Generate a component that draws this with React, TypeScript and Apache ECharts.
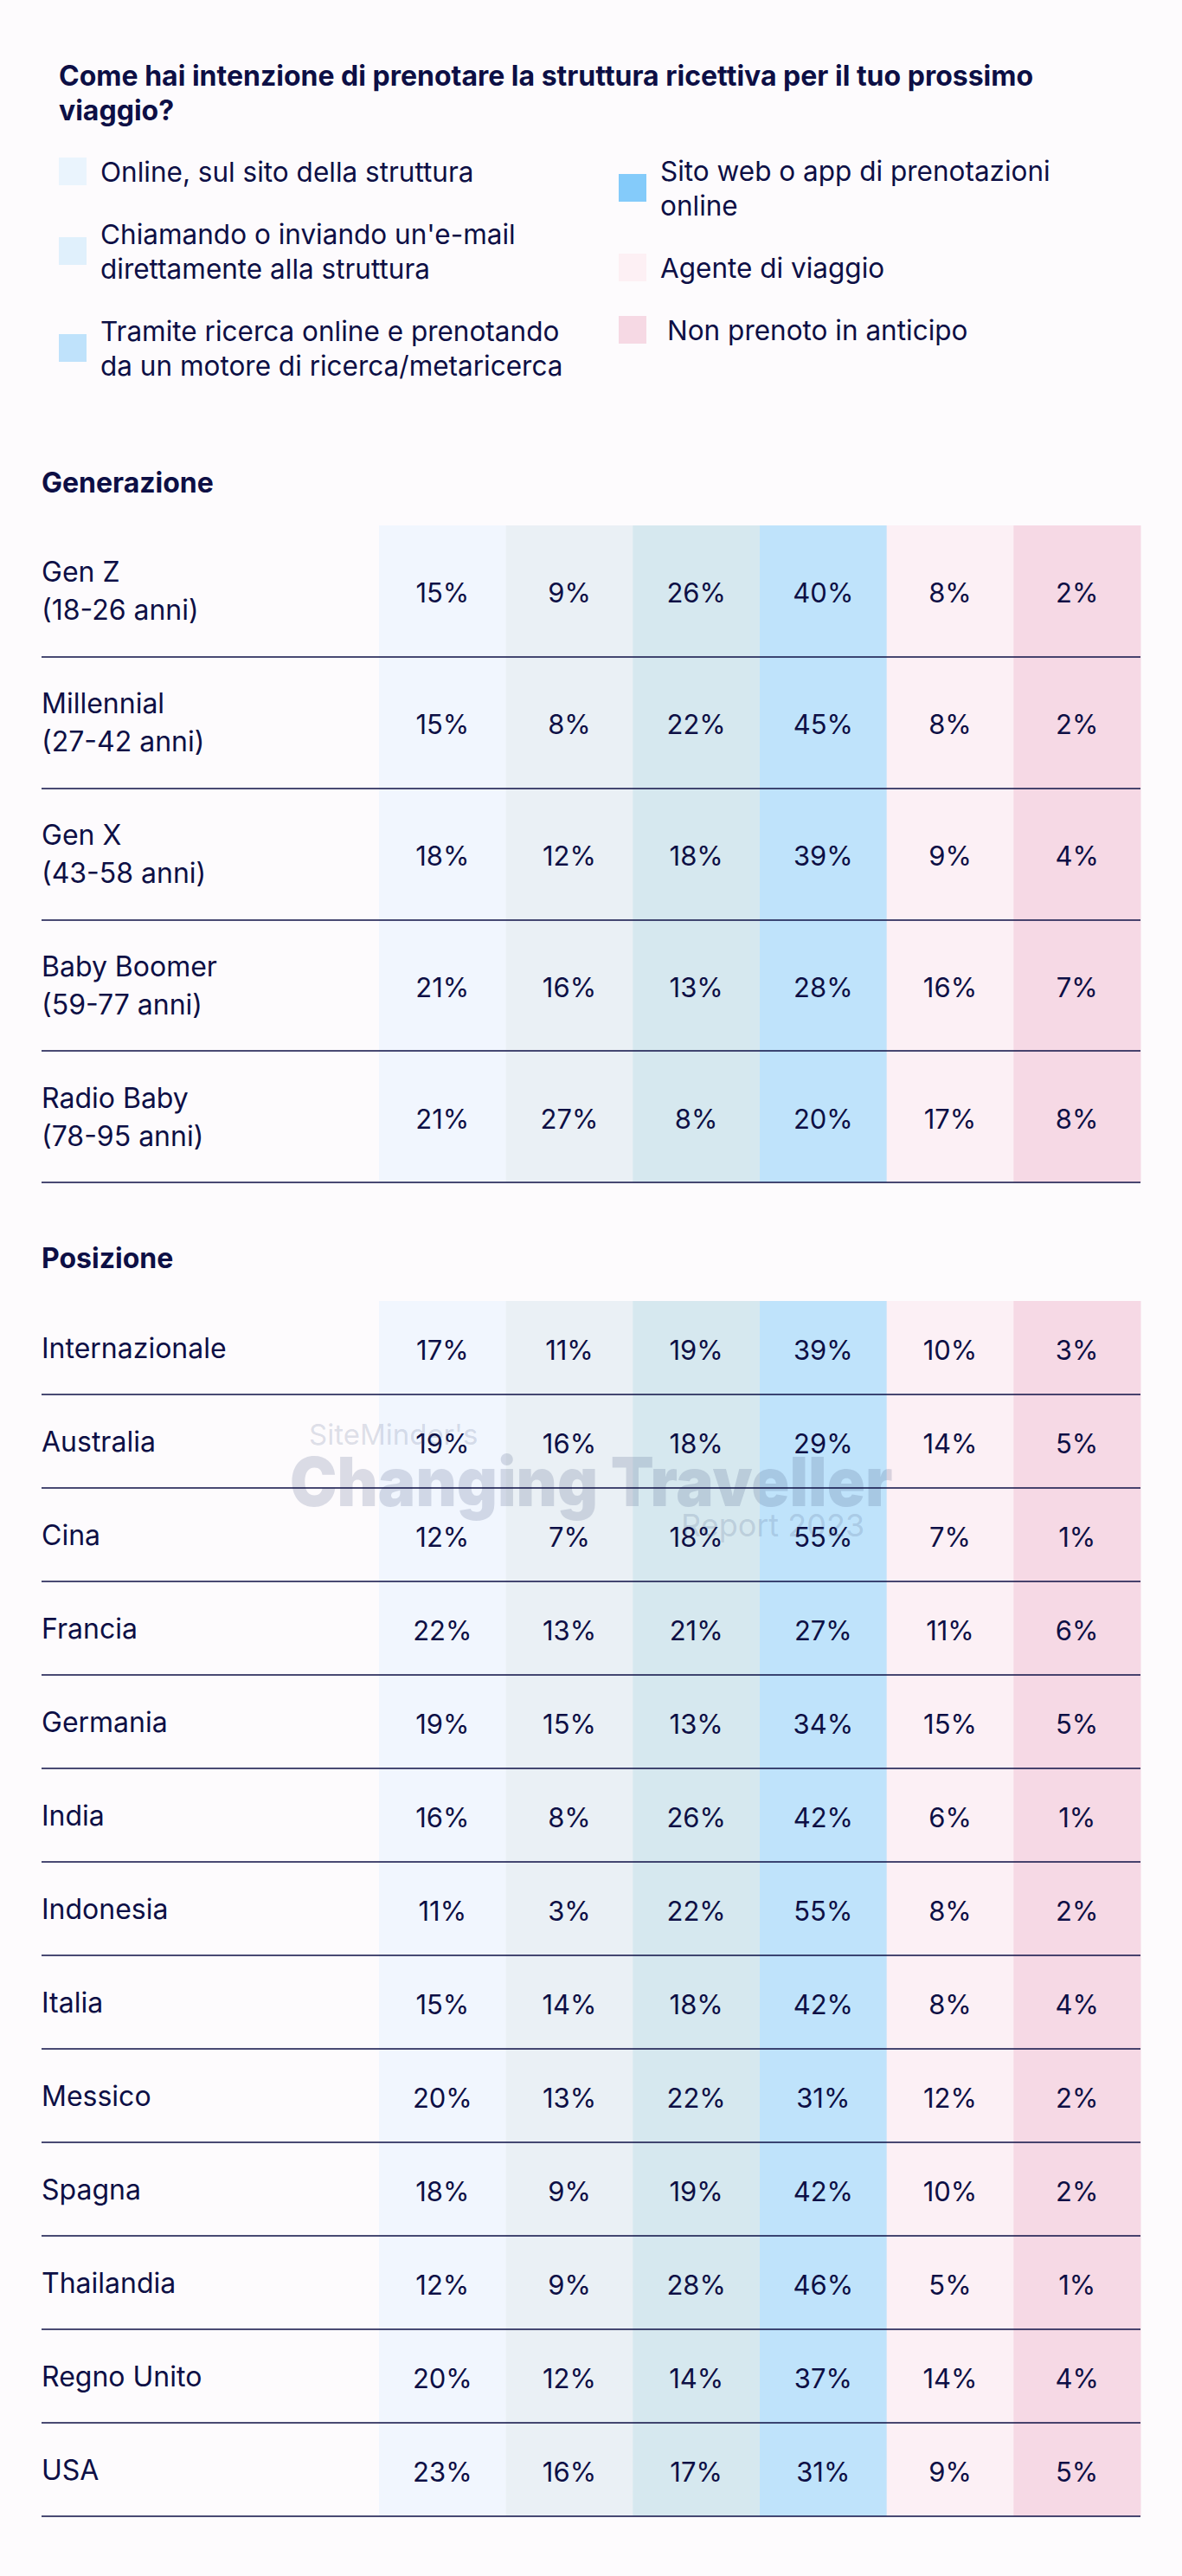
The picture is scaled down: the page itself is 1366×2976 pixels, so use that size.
import React, { useEffect, useRef } from "react";
import * as echarts from "echarts";

// ---------- data ----------
const optionNames = [
  "Online, sul sito della struttura",
  "Chiamando o inviando un'e-mail direttamente alla struttura",
  "Tramite ricerca online e prenotando da un motore di ricerca/metaricerca",
  "Sito web o app di prenotazioni online",
  "Agente di viaggio",
  "Non prenoto in anticipo",
];
const legendLabels = [
  "Online, sul sito della struttura",
  "Chiamando o inviando un'e-mail\ndirettamente alla struttura",
  "Tramite ricerca online e prenotando\nda un motore di ricerca/metaricerca",
  "Sito web o app di prenotazioni\nonline",
  "Agente di viaggio",
  "Non prenoto in anticipo",
];

const genCategories = [
  "Gen Z\n(18-26 anni)",
  "Millennial\n(27-42 anni)",
  "Gen X\n(43-58 anni)",
  "Baby Boomer\n(59-77 anni)",
  "Radio Baby\n(78-95 anni)",
];
const genOnline = [15, 15, 18, 21, 21];
const genCalling = [9, 8, 12, 16, 27];
const genSearch = [26, 22, 18, 13, 8];
const genOta = [40, 45, 39, 28, 20];
const genAgent = [8, 8, 9, 16, 17];
const genNoBooking = [2, 2, 4, 7, 8];

const posCategories = [
  "Internazionale",
  "Australia",
  "Cina",
  "Francia",
  "Germania",
  "India",
  "Indonesia",
  "Italia",
  "Messico",
  "Spagna",
  "Thailandia",
  "Regno Unito",
  "USA",
];
const posOnline = [17, 19, 12, 22, 19, 16, 11, 15, 20, 18, 12, 20, 23];
const posCalling = [11, 16, 7, 13, 15, 8, 3, 14, 13, 9, 9, 12, 16];
const posSearch = [19, 18, 18, 21, 13, 26, 22, 18, 22, 19, 28, 14, 17];
const posOta = [39, 29, 55, 27, 34, 42, 55, 42, 31, 42, 46, 37, 31];
const posAgent = [10, 14, 7, 11, 15, 6, 8, 8, 12, 10, 5, 14, 9];
const posNoBooking = [3, 5, 1, 6, 5, 1, 2, 4, 2, 2, 1, 4, 5];

const mainTitle =
  "Come hai intenzione di prenotare la struttura ricettiva per il tuo prossimo\nviaggio?";
const genHeading = "Generazione";
const posHeading = "Posizione";

// ---------- styles ----------
const NAVY = "#0d0f45";
const BG = "#fdfbfd";
const FONT = "Inter";
const WM = "rgba(60,75,120,0.18)";
const legendColors = ["#eaf4fd", "#e0f0fc", "#bfe2fb", "#84cbfa", "#fdf0f4", "#f6d9e4"];
const bandColors = ["#f1f6fe", "#eaf0f5", "#d6e8ef", "#bfe3fb", "#fcf0f5", "#f6d9e5"];
const LABEL_SPAN = 390 / (880 / 6); // label column width in column units

function makeSeries(gridIdx: number, columns: number[][]) {
  return columns.map((arr, j) => ({
    type: "custom",
    name: optionNames[j],
    xAxisIndex: gridIdx,
    yAxisIndex: gridIdx,
    itemStyle: { color: legendColors[j] },
    z: 2,
    data: arr.map((v, i) => [j, i, v]),
    renderItem: (params: any, api: any) => {
      const col = api.value(0);
      const row = api.value(1);
      const v = api.value(2);
      const p = api.coord([col, row]);
      const s = api.size([1, 1]);
      return {
        type: "group",
        children: [
          {
            type: "rect",
            shape: { x: p[0], y: p[1] - s[1] / 2, width: s[0] + 0.5, height: s[1] },
            style: { fill: bandColors[j] },
          },
          {
            type: "text",
            z2: 10,
            style: {
              text: v + "%",
              x: p[0] + s[0] / 2,
              y: p[1] + 2,
              align: "center",
              verticalAlign: "middle",
              fill: NAVY,
              font: `31px ${FONT}`,
            },
          },
        ],
      };
    },
  }));
}

function axisPair(gridIdx: number, cats: string[], lineHeight: number) {
  return {
    x: {
      type: "value",
      gridIndex: gridIdx,
      min: -LABEL_SPAN,
      max: 6,
      show: false,
    },
    y: {
      type: "category",
      gridIndex: gridIdx,
      data: cats,
      inverse: true,
      z: 6,
      axisLine: { show: false },
      axisTick: { show: false },
      axisLabel: {
        inside: true,
        margin: 0,
        align: "left",
        color: NAVY,
        fontFamily: FONT,
        fontSize: 32,
        lineHeight,
      },
      splitLine: {
        show: true,
        showMinLine: false,
        lineStyle: { color: NAVY, width: 1.5 },
      },
    },
  };
}

export default function App() {
  const ref = useRef<HTMLDivElement>(null);

  useEffect(() => {
    if (!ref.current) return;
    const chart = echarts.init(ref.current, undefined, { renderer: "svg" });
    const a0 = axisPair(0, genCategories, 44);
    const a1 = axisPair(1, posCategories, 40);
    const headingStyle = {
      fontFamily: FONT,
      fontSize: 32,
      fontWeight: "bold",
      color: NAVY,
      lineHeight: 40,
    };
    const legendText = {
      fontFamily: FONT,
      fontSize: 31.5,
      lineHeight: 40,
      color: NAVY,
      padding: [0, 0, 0, 11],
    };
    const option: any = {
      animation: false,
      backgroundColor: BG,
      title: [
        {
          text: mainTitle,
          left: 68,
          top: 67,
          padding: 0,
          textStyle: { ...headingStyle, fontSize: 32 },
        },
        { text: genHeading, left: 48, top: 537, padding: 0, textStyle: headingStyle },
        { text: posHeading, left: 48, top: 1433, padding: 0, textStyle: headingStyle },
      ],
      legend: [
        {
          orient: "vertical",
          left: 68,
          top: 178,
          padding: 0,
          itemGap: 32,
          itemWidth: 32,
          itemHeight: 32,
          icon: "rect",
          selectedMode: false,
          data: optionNames.slice(0, 3),
          formatter: (n: string) => legendLabels[optionNames.indexOf(n)],
          textStyle: legendText,
        },
        {
          orient: "vertical",
          left: 715,
          top: 177,
          padding: 0,
          itemGap: 32,
          itemWidth: 32,
          itemHeight: 32,
          icon: "rect",
          selectedMode: false,
          data: [
            optionNames[3],
            optionNames[4],
            { name: optionNames[5], textStyle: { padding: [0, 0, 0, 19] } },
          ],
          formatter: (n: string) => legendLabels[optionNames.indexOf(n)],
          textStyle: legendText,
        },
      ],
      grid: [
        { left: 48, top: 607, width: 1270, height: 759 },
        { left: 48, top: 1503, width: 1270, height: 1404 },
      ],
      xAxis: [a0.x, a1.x],
      yAxis: [a0.y, a1.y],
      graphic: [
        {
          type: "text",
          z: 5,
          x: 357,
          y: 1657,
          silent: true,
          style: {
            text: "SiteMinder's",
            font: `33px ${FONT}`,
            fill: WM,
            verticalAlign: "middle",
          },
        },
        {
          type: "text",
          z: 5,
          x: 335,
          y: 1712,
          scaleX: 0.935,
          silent: true,
          style: {
            text: "Changing Traveller",
            font: `900 78px ${FONT}`,
            fill: WM,
            verticalAlign: "middle",
          },
        },
        {
          type: "text",
          z: 5,
          x: 787,
          y: 1762,
          silent: true,
          style: {
            text: "Report 2023",
            font: `36px ${FONT}`,
            fill: WM,
            verticalAlign: "middle",
          },
        },
      ],
      series: [
        ...makeSeries(0, [genOnline, genCalling, genSearch, genOta, genAgent, genNoBooking]),
        ...makeSeries(1, [posOnline, posCalling, posSearch, posOta, posAgent, posNoBooking]),
      ],
    };
    chart.setOption(option);
    return () => chart.dispose();
  }, []);

  return (
    <div
      ref={ref}
      style={{ position: "absolute", left: 0, top: 0, width: 1366, height: 2976 }}
    />
  );
}
